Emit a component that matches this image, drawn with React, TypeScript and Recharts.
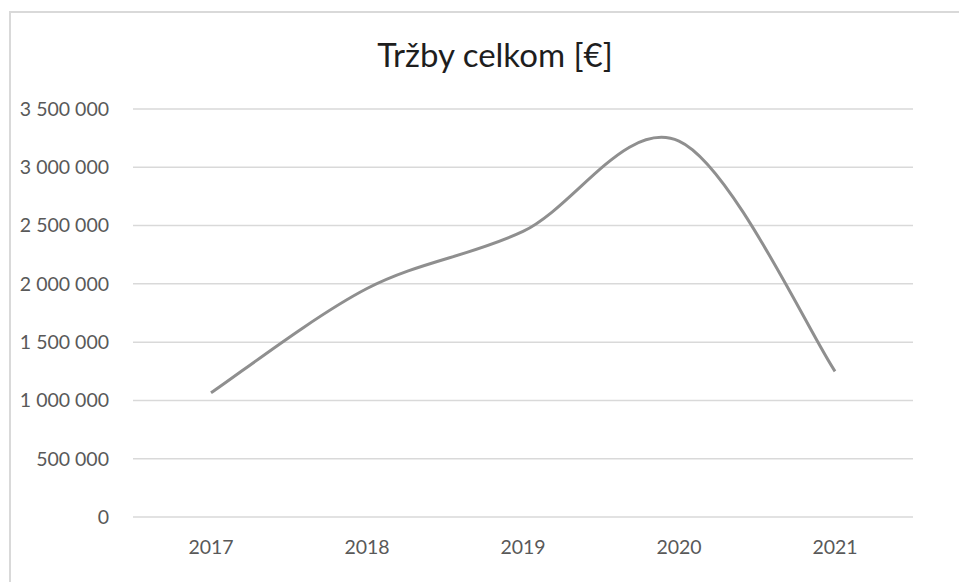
import React from 'react';
import { LineChart, Line, XAxis, YAxis, CartesianGrid } from 'recharts';

const years = ['2017', '2018', '2019', '2020', '2021'];
const revenue = [1065000, 1960000, 2450000, 3225000, 1250000];
const yTicks = [0, 500000, 1000000, 1500000, 2000000, 2500000, 3000000, 3500000];
const title = 'Tržby celkom [€]';

const data = years.map((year, i) => ({ year, revenue: revenue[i] }));

const FONT = 'Lato, "Open Sans", "Noto Sans", sans-serif';

// Spaces as thousands separators: 3 500 000
const formatTick = (v: number) => String(v).replace(/\B(?=(\d{3})+(?!\d))/g, ' ');

// Smoothed line through each point (cubic Bézier, Catmull-Rom style control points)
const smoothCurve = (context: any) => {
  let xs: number[] = [];
  let ys: number[] = [];
  return {
    areaStart() {},
    areaEnd() {},
    lineStart() {
      xs = [];
      ys = [];
    },
    point(x: number, y: number) {
      xs.push(+x);
      ys.push(+y);
    },
    lineEnd() {
      const n = xs.length;
      if (!n) return;
      context.moveTo(xs[0], ys[0]);
      for (let i = 0; i < n - 1; i++) {
        const p = Math.max(i - 1, 0);
        const q = Math.min(i + 2, n - 1);
        context.bezierCurveTo(
          xs[i] + (xs[i + 1] - xs[p]) / 6,
          ys[i] + (ys[i + 1] - ys[p]) / 6,
          xs[i + 1] - (xs[q] - xs[i]) / 6,
          ys[i + 1] - (ys[q] - ys[i]) / 6,
          xs[i + 1],
          ys[i + 1]
        );
      }
    },
  };
};

export default function App() {
  return (
    <div style={{ position: 'absolute', left: 0, top: 0, width: 959, height: 582, background: '#fff', overflow: 'hidden' }}>
      <div
        style={{
          position: 'absolute',
          left: 9,
          top: 11,
          width: 980,
          height: 600,
          border: '2px solid #d9d9d9',
          boxSizing: 'border-box',
        }}
      />
      <div
        style={{
          position: 'absolute',
          left: 0,
          width: 990,
          top: 34,
          textAlign: 'center',
          fontFamily: FONT,
          fontSize: 33,
          color: '#1e1e1e',
          lineHeight: '40px',
        }}
      >
        {title}
      </div>
      <div style={{ position: 'absolute', left: 0, top: 0 }}>
        <LineChart width={959} height={582} data={data} margin={{ top: 109, right: 46, bottom: 25, left: 13 }}>
          <CartesianGrid vertical={false} stroke="#d9d9d9" strokeWidth={1.5} />
          <XAxis
            dataKey="year"
            axisLine={false}
            tickLine={false}
            tickSize={0}
            tickMargin={23}
            height={40}
            padding={{ left: 78, right: 78 }}
            tick={{ fill: '#595959', fontSize: 19.5, fontFamily: FONT }}
          />
          <YAxis
            domain={[0, 3500000]}
            ticks={yTicks}
            interval={0}
            axisLine={false}
            tickLine={false}
            tickSize={0}
            tickMargin={24}
            width={120}
            tickFormatter={formatTick}
            tick={{ fill: '#595959', fontSize: 19.5, fontFamily: FONT }}
          />
          <Line
            dataKey="revenue"
            type={smoothCurve as any}
            stroke="#8f8f8f"
            strokeWidth={3}
            dot={false}
            activeDot={false}
            isAnimationActive={false}
          />
        </LineChart>
      </div>
    </div>
  );
}
